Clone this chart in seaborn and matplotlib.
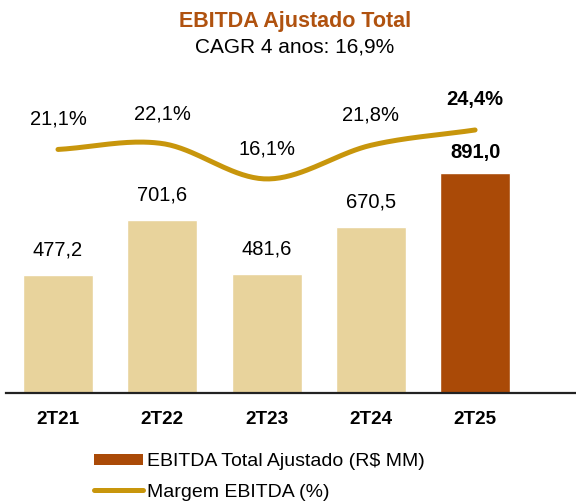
import numpy as np
import pandas as pd
import matplotlib
matplotlib.use("Agg")
import matplotlib.pyplot as plt
import seaborn as sns
from matplotlib.patches import Patch
from matplotlib.lines import Line2D

periodos = ["2T21", "2T22", "2T23", "2T24", "2T25"]
ebitda = [477.2, 701.6, 481.6, 670.5, 891.0]
margem = [21.1, 22.1, 16.1, 21.8, 24.4]
rotulos_ebitda = ["477,2", "701,6", "481,6", "670,5", "891,0"]
rotulos_margem = ["21,1%", "22,1%", "16,1%", "21,8%", "24,4%"]

cor_barra = "#E8D39C"
cor_destaque = "#AA4A07"
cor_linha = "#C8960C"
cor_titulo = "#B0520F"


def suavizar(y, n=40):
    # curva suave tipo Catmull-Rom (linha "suavizada" do Excel)
    y = np.asarray(y, float)
    p = np.concatenate([[2 * y[0] - y[1]], y, [2 * y[-1] - y[-2]]])
    xs, ys = [], []
    for i in range(len(y) - 1):
        t = np.linspace(0, 1, n)
        p0, p1, p2, p3 = p[i:i + 4]
        yy = 0.5 * ((2 * p1) + (-p0 + p2) * t
                    + (2 * p0 - 5 * p1 + 4 * p2 - p3) * t ** 2
                    + (-p0 + 3 * p1 - 3 * p2 + p3) * t ** 3)
        xs.append(i + t)
        ys.append(yy)
    return np.concatenate(xs), np.concatenate(ys)


sns.set_style("white")
plt.rcParams['font.family'] = ['Liberation Sans', 'DejaVu Sans']
plt.rcParams['text.color'] = 'black'
plt.rcParams['xtick.color'] = 'black'

df = pd.DataFrame({"periodo": periodos, "ebitda": ebitda, "margem": margem})
cores = [cor_barra] * (len(periodos) - 1) + [cor_destaque]

fig = plt.figure(figsize=(5.76, 5.03), dpi=100)
ax = fig.add_axes([6 / 576, 110 / 503, 570 / 576, 333 / 503])

sns.barplot(data=df, x="periodo", y="ebitda", hue="periodo", palette=cores,
            legend=False, width=0.671, saturation=1, ax=ax)
ax.set_xlim(-0.4986, 4.968)
ax.set_ylim(0, 1348.7)

for i, (v, txt) in enumerate(zip(ebitda, rotulos_ebitda)):
    ultimo = i == len(ebitda) - 1
    ax.annotate(txt, (i, v), xytext=(0, 21 if ultimo else 25),
                textcoords="offset pixels", ha="center", va="center",
                fontsize=14.5, fontweight="bold" if ultimo else "normal")

ax2 = ax.twinx()
ax2.set_ylim(-20.18, 36.26)
xs, ys = suavizar(margem)
ax2.plot(xs, ys, color=cor_linha, lw=3.6, solid_capstyle="round")
for i, (v, txt) in enumerate(zip(margem, rotulos_margem)):
    ultimo = i == len(margem) - 1
    ax2.annotate(txt, (i, v), xytext=(0, 30), textcoords="offset pixels",
                 ha="center", va="center", fontsize=14.5,
                 fontweight="bold" if ultimo else "normal")

for a in (ax, ax2):
    a.set_yticks([])
    a.set_xlabel("")
    a.set_ylabel("")
    for s in ["top", "right", "left"]:
        a.spines[s].set_visible(False)
ax2.spines["bottom"].set_visible(False)
ax.spines["bottom"].set_color("#222222")
ax.spines["bottom"].set_linewidth(1.6)
ax.tick_params(axis="x", length=0, pad=13, colors="black")
for lbl in ax.get_xticklabels():
    lbl.set_fontweight("bold")
    lbl.set_fontsize(13.6)

fig.text(295 / 576, 1 - 21 / 503, "EBITDA Ajustado Total", ha="center",
         va="center", fontsize=15.5, fontweight="bold", color=cor_titulo)
fig.text(295 / 576, 1 - 47 / 503, "CAGR 4 anos: 16,9%", ha="center",
         va="center", fontsize=15)

handles = [Patch(facecolor=cor_destaque, edgecolor="none"),
           Line2D([0], [0], color=cor_linha, lw=3.6, solid_capstyle="round")]
fig.legend(handles, ["EBITDA Total Ajustado (R$ MM)", "Margem EBITDA (%)"],
           loc="center left", bbox_to_anchor=(94 / 576, 1 - 477 / 503),
           frameon=False, fontsize=14, handlelength=2.5, handleheight=0.55,
           handletextpad=0.25, labelspacing=0.68, borderpad=0,
           borderaxespad=0)

fig.savefig("out.png", dpi=100)
